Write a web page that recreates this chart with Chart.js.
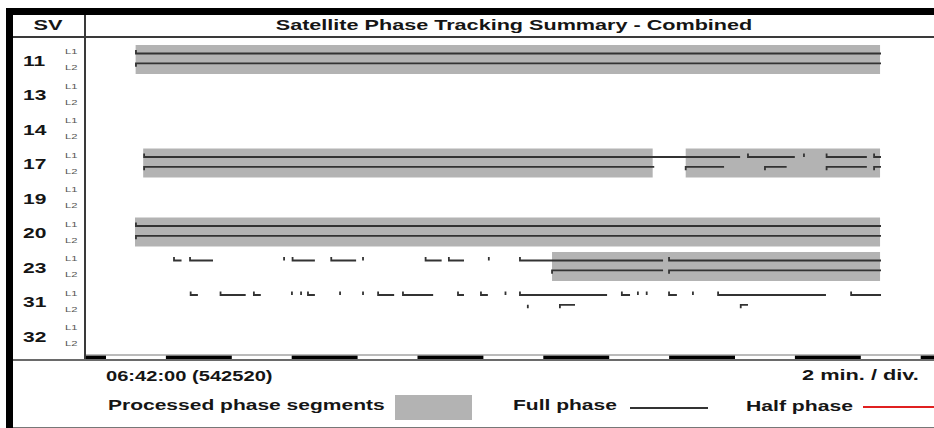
<!DOCTYPE html>
<html>
<head>
<meta charset="utf-8">
<title>Satellite Phase Tracking Summary - Combined</title>
<script src="https://cdn.jsdelivr.net/npm/chart.js@4/dist/chart.umd.min.js"></script>
<style>
  body { margin: 0; background: #fff; width: 934px; height: 428px; overflow: hidden; position: relative; font-family: 'Liberation Sans', Arial, sans-serif; }
  .box { position: absolute; z-index: 2; }
  .txt { position: absolute; font-weight: bold; font-size: 15px; line-height: 15px; color: #151515; white-space: nowrap; z-index: 3; }
  .lbl { position: absolute; font-size: 7px; line-height: 7px; color: #555; white-space: nowrap; z-index: 3; }
  #plot { position: absolute; left: 86px; top: 38px; z-index: 1; }
</style>
</head>
<body>
<div class="box" style="left:6px;top:8px;width:928px;height:7px;background:#000"></div>
<div class="box" style="left:6px;top:8px;width:7px;height:420px;background:#000"></div>
<div class="box" style="left:13px;top:36px;width:921px;height:2px;background:#3a3a3a"></div>
<div class="box" style="left:84px;top:15px;width:2px;height:345px;background:#3a3a3a"></div>
<div class="box" style="left:13px;top:359px;width:921px;height:1.5px;background:#6a6a6a"></div>
<div class="box" style="left:13px;top:426.5px;width:921px;height:1.5px;background:#777"></div>
<div class="box" style="left:395px;top:395px;width:77px;height:25px;background:#b3b3b3"></div>
<div class="box" style="left:630px;top:407px;width:78px;height:1.5px;background:#333"></div>
<div class="box" style="left:863px;top:406px;width:71px;height:2px;background:#e02020"></div>
<canvas id="plot" width="848" height="322"></canvas>
<script>
'use strict';
// satellites (rows) and tracked segments, times in minutes after 06:42:00
const svList = ['11', '13', '14', '17', '19', '20', '23', '31', '32'];

const processedSegs = [
  ['11', 0.99, 24.66],
  ['17', 1.23, 17.43],
  ['17', 18.48, 24.66],
  ['20', 0.97, 24.66],
  ['23', 14.23, 24.66]
];

const fullPhaseL1 = [
  ['11', 1.00, 24.69],
  ['17', 1.26, 20.21], ['17', 20.46, 21.95], ['17', 22.24, 22.24], ['17', 22.96, 24.24], ['17', 24.47, 24.69],
  ['20', 1.00, 24.69],
  ['23', 2.21, 2.45], ['23', 2.72, 3.45], ['23', 5.71, 5.71], ['23', 5.98, 6.69], ['23', 7.21, 8.00],
  ['23', 8.22, 8.22], ['23', 10.21, 10.72], ['23', 10.95, 11.43], ['23', 12.22, 12.22],
  ['23', 13.21, 17.76], ['23', 17.95, 24.69],
  ['31', 2.74, 2.97], ['31', 3.69, 4.49], ['31', 4.75, 4.97], ['31', 5.96, 5.96], ['31', 6.25, 6.25],
  ['31', 6.47, 6.69], ['31', 7.49, 7.49], ['31', 8.22, 8.22], ['31', 8.70, 9.21], ['31', 9.49, 10.45],
  ['31', 11.24, 11.43], ['31', 11.97, 12.19], ['31', 12.75, 12.75], ['31', 13.21, 15.98],
  ['31', 16.45, 16.71], ['31', 16.96, 16.96], ['31', 17.24, 17.24], ['31', 17.95, 18.20],
  ['31', 18.71, 18.71], ['31', 19.51, 22.94], ['31', 23.74, 24.69]
];

const fullPhaseL2 = [
  ['11', 1.00, 24.69],
  ['17', 1.26, 17.48], ['17', 18.48, 19.70], ['17', 21.00, 21.69], ['17', 22.96, 24.24], ['17', 24.47, 24.69],
  ['20', 1.00, 24.69],
  ['23', 14.23, 17.76], ['23', 17.95, 24.69],
  ['31', 13.46, 13.46], ['31', 14.48, 14.96], ['31', 20.23, 20.46]
];

const halfPhaseL1 = [];
const halfPhaseL2 = [];

const divisionTicks = [-2, 0, 2, 4, 6, 8, 10, 12, 14, 16, 18, 20, 22, 24, 26, 28];
const startLabel = '06:42:00 (542520)';
const divLabel = '2 min. / div.';

const l1Offset = -0.174;
const l2Offset = 0.11;
const hookSize = 0.1;

function rowIndex(sv) {
  return svList.indexOf(sv);
}

function bandPoints(segs) {
  let pts = [];
  for (let i = 0; i < segs.length; i++) {
    let y = rowIndex(segs[i][0]);
    pts.push({ x: segs[i][1], y: y });
    pts.push({ x: segs[i][2], y: y });
    pts.push({ x: segs[i][2], y: null });
  }
  return pts;
}

function trackPoints(segs, offset, hook) {
  let pts = [];
  for (let i = 0; i < segs.length; i++) {
    let y = rowIndex(segs[i][0]) + offset;
    pts.push({ x: segs[i][1], y: y + hook });
    pts.push({ x: segs[i][1], y: y });
    pts.push({ x: segs[i][2], y: y });
    pts.push({ x: segs[i][2], y: null });
  }
  return pts;
}

function lineSet(data, color, width, order) {
  return {
    data: data,
    showLine: true,
    borderColor: color,
    borderWidth: width,
    borderCapStyle: 'butt',
    pointRadius: 0,
    spanGaps: false,
    order: order
  };
}

// alternating black / white division bar along the bottom
const divisionBar = {
  id: 'divisionBar',
  afterDatasetsDraw(chart) {
    const ctx = chart.ctx;
    const xs = chart.scales.x;
    const area = chart.chartArea;
    const top = area.bottom - 5;
    ctx.save();
    ctx.fillStyle = '#000';
    for (let i = 0; i < divisionTicks.length - 1; i++) {
      if (i % 2 === 0) {
        let x0 = xs.getPixelForValue(divisionTicks[i]) - 1.5;
        let x1 = xs.getPixelForValue(divisionTicks[i + 1]) + 1.5;
        ctx.fillRect(x0, top + 0.5, x1 - x0, 4);
      }
    }
    ctx.strokeStyle = '#777';
    ctx.lineWidth = 1;
    ctx.beginPath();
    ctx.moveTo(area.left, top);
    ctx.lineTo(area.right, top);
    ctx.stroke();
    ctx.restore();
  }
};

const ctx = document.getElementById('plot').getContext('2d');

const config = {
  type: 'scatter',
  data: {
    datasets: [
      lineSet(trackPoints(fullPhaseL1, l1Offset, -hookSize), '#333', 1.8, 1),
      lineSet(trackPoints(fullPhaseL2, l2Offset, hookSize), '#333', 1.8, 1),
      lineSet(trackPoints(halfPhaseL1, l1Offset, -hookSize), '#e02020', 1.8, 1),
      lineSet(trackPoints(halfPhaseL2, l2Offset, hookSize), '#e02020', 1.8, 1),
      lineSet(bandPoints(processedSegs), '#b3b3b3', 29, 3)
    ]
  },
  options: {
    responsive: false,
    animation: false,
    layout: { padding: 0 },
    scales: {
      x: { type: 'linear', min: -0.588, max: 26.375, display: false },
      y: { type: 'linear', min: -0.6232, max: 8.7101, reverse: true, display: false }
    },
    plugins: {
      legend: { display: false },
      tooltip: { enabled: false }
    }
  },
  plugins: [divisionBar]
};
const myChart = new Chart(ctx, config);

function addText(str, x, y, scale, centered, cls) {
  let el = document.createElement('div');
  el.className = cls || 'txt';
  el.textContent = str;
  el.style.left = x + 'px';
  el.style.top = y + 'px';
  if (centered) {
    el.style.transformOrigin = '50% 50%';
    el.style.transform = 'translate(-50%, -50%) scaleX(' + scale + ')';
  } else {
    el.style.transformOrigin = '0 50%';
    el.style.transform = 'translateY(-50%) scaleX(' + scale + ')';
  }
  document.body.appendChild(el);
}

addText('SV', 48, 24, 1.45, true);
addText('Satellite Phase Tracking Summary - Combined', 514, 24, 1.44, true);
addText(startLabel, 106, 375, 1.34);
addText(divLabel, 802, 374, 1.45);
addText('Processed phase segments', 108, 404, 1.40);
addText('Full phase', 513, 404, 1.40);
addText('Half phase', 746, 404.5, 1.41);

// row labels follow the chart's y scale
const plotTop = 38;
for (let i = 0; i < svList.length; i++) {
  let yc = plotTop + myChart.scales.y.getPixelForValue(i);
  addText(svList[i], 23, yc, 1.4);
  addText('L1', 65, yc - 8.5, 1.6, false, 'lbl');
  addText('L2', 65, yc + 7.5, 1.6, false, 'lbl');
}
</script>
</body>
</html>
